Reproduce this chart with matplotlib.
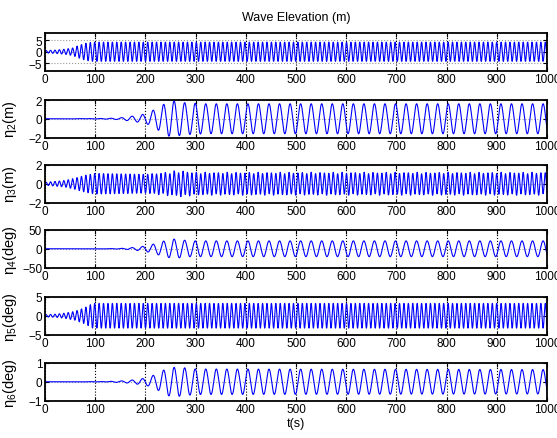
import numpy as np
import matplotlib
matplotlib.use("Agg")
import matplotlib.pyplot as plt

plt.rcParams['font.family'] = ['Liberation Sans', 'DejaVu Sans']
plt.rcParams['mathtext.fontset'] = 'custom'
plt.rcParams['mathtext.rm'] = 'Liberation Sans'
plt.rcParams['mathtext.it'] = 'Liberation Sans:italic'

# ---- data (envelope knots & oscillation periods) ----
t_end = 1000.0
xticks = list(range(0, 1001, 100))

wave_env_t   = [0, 20, 40, 55, 65, 80, 95, 1000]
wave_env_amp = [0.5, 0.7, 1.1, 1.6, 2.5, 3.6, 4.1, 4.1]
wave_period  = 8.8

eta2_env_t   = [0, 100, 130, 150, 170, 190, 205, 225, 250, 280, 320, 1000]
eta2_env_amp = [0, 0.02, 0.05, 0.1, 0.25, 0.4, 0.6, 1.2, 1.95, 1.7, 1.6, 1.6]
eta2_period  = 21.0

eta3_env_t   = [0, 20, 40, 60, 80, 100, 200, 230, 270, 300, 1000]
eta3_env_amp = [0.15, 0.25, 0.35, 0.6, 0.9, 1.1, 1.0, 1.1, 1.3, 1.15, 1.15]
eta3_period  = 8.8
eta3_slow_t   = [0, 200, 250, 300, 1000]
eta3_slow_amp = [0, 0, 0.15, 0.08, 0.08]

eta4_env_t   = [0, 130, 160, 180, 200, 215, 235, 255, 290, 1000]
eta4_env_amp = [0, 0.3, 1.5, 4, 7, 12, 20, 26, 21, 21]
eta4_period  = 21.0

eta5_env_t   = [0, 20, 40, 60, 80, 95, 1000]
eta5_env_amp = [0.3, 0.4, 0.7, 1.2, 2.2, 3.3, 3.3]
eta5_period  = 8.8

eta6_env_t   = [0, 120, 150, 170, 190, 205, 225, 245, 265, 300, 1000]
eta6_env_amp = [0, 0.01, 0.04, 0.08, 0.15, 0.22, 0.45, 0.75, 0.78, 0.68, 0.65]
eta6_period  = 21.0

ylims  = [8, 2, 2, 50, 5, 1]
yticks = [[-5, 0, 5], [-2, 0, 2], [-2, 0, 2], [-50, 0, 50], [-5, 0, 5], [-1, 0, 1]]
ylabels = ['', r'$\mathregular{\eta_2}$(m)', r'$\mathregular{\eta_3}$(m)',
           r'$\mathregular{\eta_4}$(deg)', r'$\mathregular{\eta_5}$(deg)',
           r'$\mathregular{\eta_6}$(deg)']
title = 'Wave Elevation (m)'
xlabel = 't(s)'

t = np.arange(0, t_end + 0.001, 0.25)

def osc(et, ea, period):
    return np.interp(t, et, ea) * np.sin(2 * np.pi * t / period)

signals = [
    osc(wave_env_t, wave_env_amp, wave_period),
    osc(eta2_env_t, eta2_env_amp, eta2_period),
    osc(eta3_env_t, eta3_env_amp, eta3_period) + osc(eta3_slow_t, eta3_slow_amp, 21.0),
    osc(eta4_env_t, eta4_env_amp, eta4_period),
    osc(eta5_env_t, eta5_env_amp, eta5_period),
    osc(eta6_env_t, eta6_env_amp, eta6_period),
]

W, H = 557, 439
fig = plt.figure(figsize=(W / 100, H / 100), dpi=100)
tops = [34, 101, 166, 231, 298, 364]
ph = 37.5
left, right = 45, 547

for i, (y, top) in enumerate(zip(signals, tops)):
    ax = fig.add_axes([left / W, 1 - (top + ph) / H, (right - left) / W, ph / H])
    ax.plot(t, y, color='#0000ff', lw=0.8)
    ax.set_xlim(0, t_end)
    ax.set_ylim(-ylims[i], ylims[i])
    ax.set_xticks(xticks)
    ax.set_yticks(yticks[i])
    ax.tick_params(direction='in', length=3, width=0.8, top=True, right=True,
                   labelsize=8.5, pad=2)
    ax.xaxis.grid(True, color='k', ls=':', lw=0.8)
    ax.yaxis.grid(True, color='0.6', ls=':', lw=0.8)
    for s in ax.spines.values():
        s.set_linewidth(1.3)
    if ylabels[i]:
        ax.set_ylabel(ylabels[i], fontsize=10.5)
        ax.yaxis.set_label_coords(-0.052, 0.5)
    if i == 0:
        ax.set_title(title, fontsize=9, pad=9)
    if i == 5:
        ax.set_xlabel(xlabel, fontsize=9, labelpad=1)

fig.savefig('out.png', dpi=100)
